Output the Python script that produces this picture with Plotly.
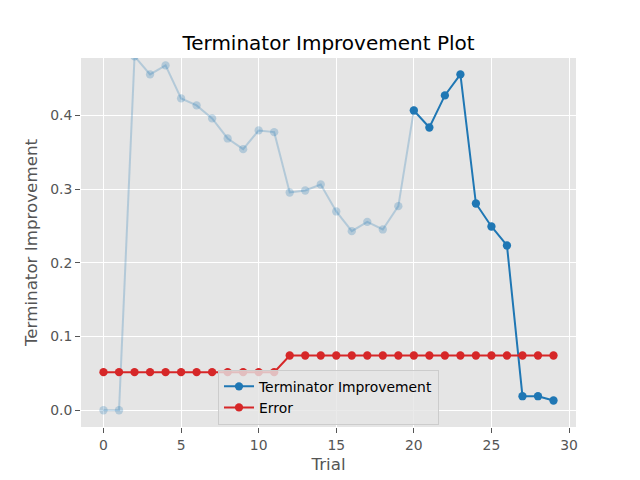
import plotly.graph_objects as go

trials = list(range(30))
improvements = [0.0, 0.0, 0.48, 0.4555, 0.4677, 0.4229, 0.4134, 0.3958, 0.3686, 0.3541,
                0.3795, 0.3772, 0.2953, 0.298, 0.3062, 0.2696, 0.2429, 0.2555, 0.2452, 0.2768,
                0.4066, 0.3835, 0.427, 0.4555, 0.2804, 0.2492, 0.2235, 0.019, 0.019, 0.0132]
errors = [0.0516] * 12 + [0.0742] * 18
min_n_trials = 20

BLUE = "#1f77b4"
RED = "#d62728"
FAINT = "rgba(31,119,180,0.25)"
FONT = "DejaVu Sans"

fig = go.Figure()
fig.add_trace(go.Scatter(
    x=trials[:min_n_trials + 1], y=improvements[:min_n_trials + 1],
    mode="lines+markers", showlegend=False, cliponaxis=True,
    line=dict(color=FAINT, width=2),
    marker=dict(color=FAINT, size=8.3, line=dict(width=0)),
))
fig.add_trace(go.Scatter(
    x=trials[min_n_trials:], y=improvements[min_n_trials:],
    mode="lines+markers", name="Terminator Improvement",
    line=dict(color=BLUE, width=2),
    marker=dict(color=BLUE, size=8.3, line=dict(width=0)),
))
fig.add_trace(go.Scatter(
    x=trials, y=errors,
    mode="lines+markers", name="Error",
    line=dict(color=RED, width=2),
    marker=dict(color=RED, size=8.3, line=dict(width=0)),
))

fig.update_layout(
    width=640, height=480,
    margin=dict(l=81, r=64, t=58, b=53),
    paper_bgcolor="white", plot_bgcolor="#E5E5E5",
    font=dict(family=FONT, size=13.9, color="#555555"),
    title=dict(text="Terminator Improvement Plot", x=0.5, xref="paper",
               y=1 - 43 / 480, yanchor="middle", yref="container",
               font=dict(family=FONT, size=20, color="black")),
    xaxis=dict(range=[-1.45, 30.45], tickvals=[0, 5, 10, 15, 20, 25, 30],
               showgrid=True, gridcolor="white", gridwidth=1, zeroline=False,
               ticks="outside", ticklen=5, tickcolor="#555555", tickwidth=1,
               showline=False, automargin=False,
               title=dict(text="Trial", font=dict(size=16.7, color="#555555"), standoff=6)),
    yaxis=dict(range=[-0.02275, 0.47775], tickvals=[0.0, 0.1, 0.2, 0.3, 0.4],
               tickformat=".1f",
               showgrid=True, gridcolor="white", gridwidth=1, zeroline=False,
               ticks="outside", ticklen=5, tickcolor="#555555", tickwidth=1,
               showline=False, automargin=False,
               title=dict(text="Terminator Improvement", font=dict(size=16.7, color="#555555"), standoff=8)),
    legend=dict(x=0.5, xanchor="center", y=0.006, yanchor="bottom",
                bgcolor="rgba(229,229,229,0.8)", bordercolor="#cccccc", borderwidth=1,
                font=dict(size=13.9, color="black"), tracegroupgap=0),
)

fig.write_html("out.html")
